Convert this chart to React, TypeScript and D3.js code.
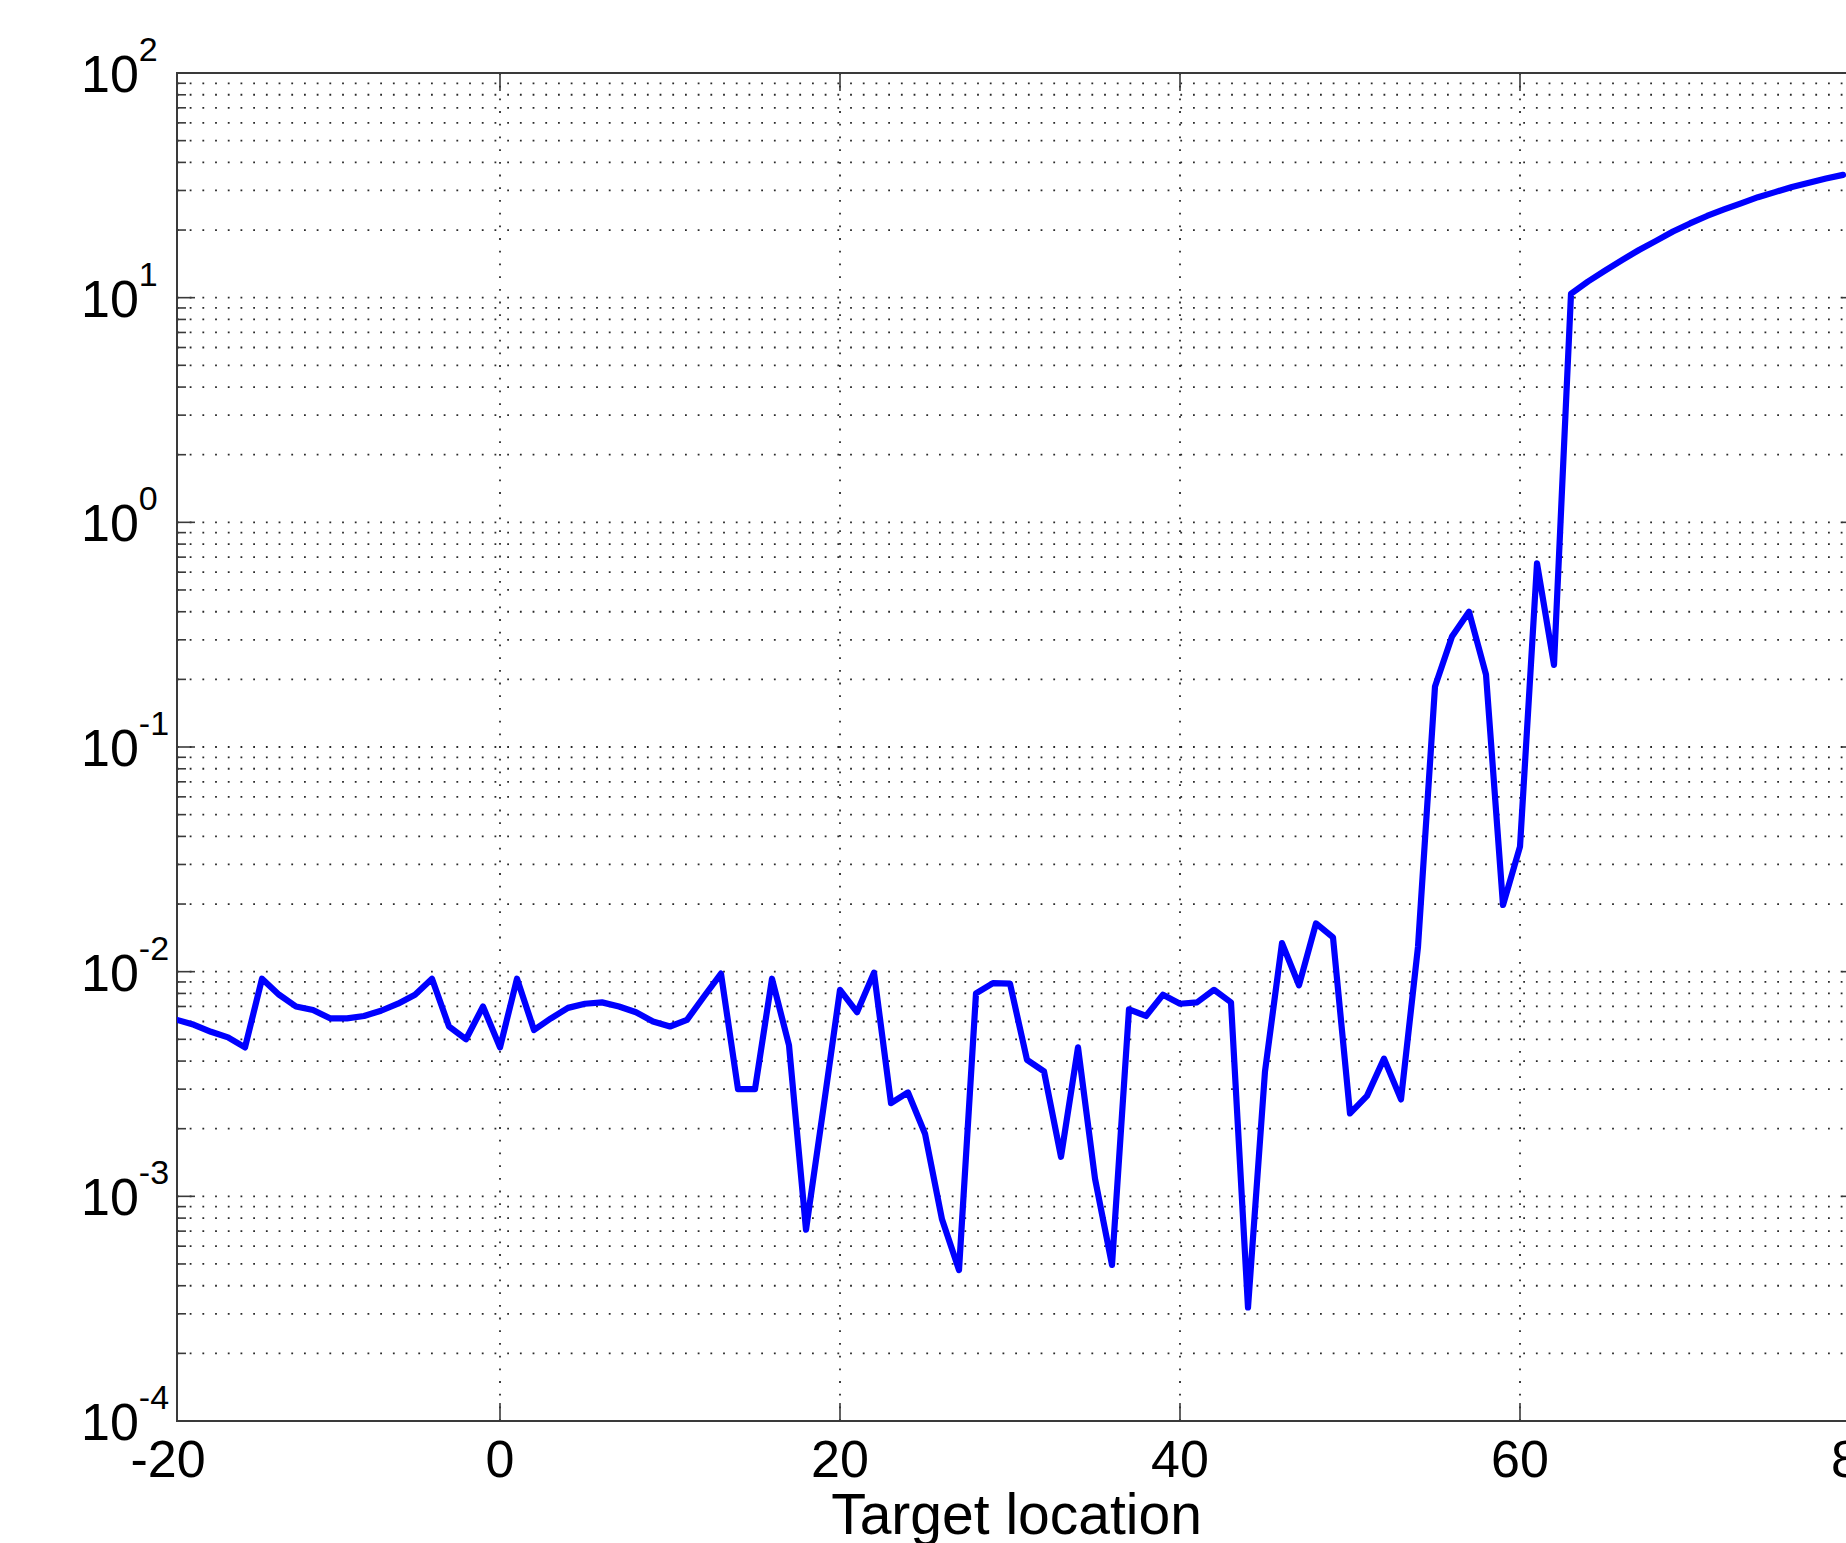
import React from "react";
import * as d3 from "d3";

// Target locations start at -19 and step by 1
const firstLocation = -19;
const errorValues: number[] = [
  6.1e-3, 5.8e-3, 5.4e-3, 5.1e-3, 4.6e-3, 9.3e-3, 7.9e-3, 7.0e-3, 6.75e-3, 6.2e-3, // -19..-10
  6.2e-3, 6.35e-3, 6.7e-3, 7.2e-3, 7.9e-3, 9.3e-3, 5.7e-3, 5.0e-3, 7.0e-3, // -9..-1
  4.6e-3, 9.3e-3, 5.5e-3, 6.2e-3, 6.9e-3, 7.2e-3, 7.3e-3, 7.0e-3, 6.6e-3, 6.0e-3, // 0..9
  5.7e-3, 6.1e-3, 7.75e-3, 9.8e-3, 3.0e-3, 3.0e-3, 9.3e-3, 4.7e-3, 7.1e-4, 2.4e-3, // 10..19
  8.3e-3, 6.6e-3, 9.9e-3, 2.6e-3, 2.9e-3, 1.9e-3, 7.9e-4, 4.7e-4, 8.0e-3, 8.9e-3, // 20..29
  8.85e-3, 4.05e-3, 3.6e-3, 1.5e-3, 4.6e-3, 1.2e-3, 4.95e-4, 6.8e-3, 6.35e-3, 7.9e-3, // 30..39
  7.2e-3, 7.3e-3, 8.3e-3, 7.3e-3, 3.2e-4, 3.6e-3, 1.34e-2, 8.7e-3, 1.64e-2, 1.42e-2, // 40..49
  2.34e-3, 2.8e-3, 4.1e-3, 2.7e-3, 1.29e-2, 0.186, 0.31, 0.40, 0.21, 1.98e-2, // 50..59
  3.6e-2, 0.657, 0.232, 10.4, 11.8, 13.2, 14.7, 16.3, 17.9, 19.7, // 60..69
  21.4, 23.1, 24.7, 26.3, 28.0, 29.5, 31.1, 32.5, 33.9, 35.2, // 70..79
];

const xTicks = [-20, 0, 20, 40, 60, 80];
const yDecades = [-4, -3, -2, -1, 0, 1, 2];
const xLabel = "Target location";

const W = 1846;
const H = 1543;
const L = 177;
const T = 73;
const B = 1421;
const R = 1860;

export default function App() {
  const x = d3.scaleLinear().domain([-19, 80]).range([L, R]);
  const y = d3.scaleLog().domain([1e-4, 1e2]).range([B, T]);

  const pts = errorValues.map((v, i) => [firstLocation + i, v] as [number, number]);
  const line = d3
    .line<[number, number]>()
    .x((d) => x(d[0]))
    .y((d) => y(d[1]));

  const minor: number[] = [];
  for (let e = -4; e < 2; e++) {
    for (let m = 2; m <= 9; m++) minor.push(m * Math.pow(10, e));
  }
  const majors = yDecades.map((e) => Math.pow(10, e));

  const gridStyle = {
    stroke: "#2a2a2a",
    strokeWidth: 1.8,
    strokeDasharray: "1.8 10.9",
    fill: "none",
  } as const;
  const axisColor = "#3a3a3a";
  const font = "'Liberation Sans', Arial, Helvetica, sans-serif";

  return (
    <svg
      width={W}
      height={H}
      style={{ position: "absolute", left: 0, top: 0, display: "block", background: "#fff" }}
    >
      <defs>
        <clipPath id="plotclip">
          <rect x={L} y={T} width={R - L} height={B - T} />
        </clipPath>
      </defs>
      <rect x={0} y={0} width={W} height={H} fill="#fff" />

      {/* horizontal grid */}
      {[...minor, ...majors.slice(1, -1)].map((v, i) => (
        <line key={"hg" + i} x1={L} x2={R} y1={y(v)} y2={y(v)} {...gridStyle} />
      ))}
      {/* vertical grid */}
      {xTicks
        .filter((t) => t > -19 && t < 80)
        .map((t) => (
          <line key={"vg" + t} x1={x(t)} x2={x(t)} y1={T} y2={B} {...gridStyle} />
        ))}

      {/* box */}
      <rect x={L} y={T} width={R - L} height={B - T} fill="none" stroke={axisColor} strokeWidth={2} />

      {/* y ticks */}
      {minor.map((v, i) => (
        <g key={"mt" + i} stroke={axisColor} strokeWidth={1.6}>
          <line x1={L} x2={L + 9} y1={y(v)} y2={y(v)} />
          <line x1={R} x2={R - 9} y1={y(v)} y2={y(v)} />
        </g>
      ))}
      {majors.map((v, i) => (
        <g key={"Mt" + i} stroke={axisColor} strokeWidth={1.6}>
          <line x1={L} x2={L + 18} y1={y(v)} y2={y(v)} />
          <line x1={R} x2={R - 18} y1={y(v)} y2={y(v)} />
        </g>
      ))}
      {/* x ticks */}
      {xTicks
        .filter((t) => t >= -19 && t <= 80)
        .map((t) => (
          <g key={"xt" + t} stroke={axisColor} strokeWidth={1.6}>
            <line x1={x(t)} x2={x(t)} y1={B} y2={B - 18} />
            <line x1={x(t)} x2={x(t)} y1={T} y2={T + 18} />
          </g>
        ))}

      {/* data line */}
      <path
        d={line(pts) || ""}
        fill="none"
        stroke="#0000ff"
        strokeWidth={6.2}
        strokeLinejoin="round"
        strokeLinecap="round"
        clipPath="url(#plotclip)"
      />

      {/* y labels */}
      {yDecades.map((e) => (
        <text
          key={"yl" + e}
          x={81}
          y={y(Math.pow(10, e)) + 19}
          fontFamily={font}
          fontSize={52}
          fill="#000"
        >
          10
          <tspan fontSize={34} dy={-31}>
            {String(e)}
          </tspan>
        </text>
      ))}

      {/* x labels */}
      {xTicks.map((t) => (
        <text
          key={"xl" + t}
          x={Math.max(x(t), L - 9)}
          y={1477}
          textAnchor="middle"
          fontFamily={font}
          fontSize={52}
          fill="#000"
        >
          {String(t)}
        </text>
      ))}

      <text
        x={(L + R) / 2 - 2}
        y={1534}
        textAnchor="middle"
        fontFamily={font}
        fontSize={57}
        fill="#000"
      >
        {xLabel}
      </text>
    </svg>
  );
}
